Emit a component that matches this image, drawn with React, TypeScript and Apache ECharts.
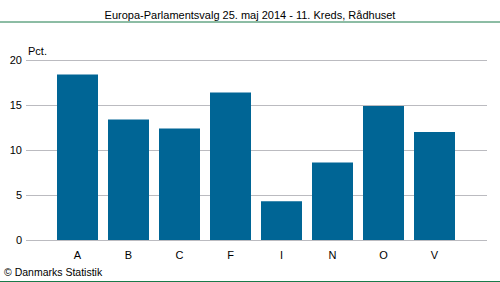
import React, { useEffect, useRef } from "react";
import * as echarts from "echarts";

const categories = ["A", "B", "C", "F", "I", "N", "O", "V"];
const values = [18.4, 13.4, 12.4, 16.4, 4.3, 8.6, 14.9, 12.0];
const yTicks = [0, 5, 10, 15, 20];

export default function App() {
  const ref = useRef<HTMLDivElement>(null);
  useEffect(() => {
    const chart = echarts.init(ref.current!, null, { renderer: "svg" });
    const font = "Liberation Sans, Arial, sans-serif";
    chart.setOption({
      animation: false,
      backgroundColor: "#ffffff",
      title: {
        text: "Europa-Parlamentsvalg 25. maj 2014 - 11. Kreds, Rådhuset",
        left: "center",
        top: 4,
        textStyle: { fontFamily: font, fontSize: 11, fontWeight: "normal", color: "#000" },
      },
      graphic: [
        { type: "line", shape: { x1: 0, y1: 22, x2: 500, y2: 22 }, style: { stroke: "#1a7a4a", lineWidth: 1 } },
        { type: "line", shape: { x1: 0, y1: 281.5, x2: 500, y2: 281.5 }, style: { stroke: "#1a7a4a", lineWidth: 1 } },
        { type: "text", left: 4, top: 266, style: { text: "© Danmarks Statistik", font: "10.5px " + font, fill: "#000" } },
        { type: "text", left: 28, top: 45, style: { text: "Pct.", font: "11px " + font, fill: "#000" } },
      ],
      grid: [
        { left: 26, right: 13, top: 60, bottom: 42, containLabel: false },
        { left: 52, width: 408, top: 60, bottom: 42, containLabel: false },
      ],
      xAxis: [
        { gridIndex: 0, type: "value", show: false, min: 0, max: 1 },
        {
          gridIndex: 1,
          type: "category",
          data: categories,
          axisLine: { show: false },
          axisTick: { show: false },
          axisLabel: { fontFamily: font, fontSize: 11, color: "#000", margin: 9 },
        },
      ],
      yAxis: [
        {
          gridIndex: 0,
          type: "value",
          min: yTicks[0],
          max: yTicks[yTicks.length - 1],
          interval: 5,
          axisLine: { show: false },
          axisTick: { show: false },
          axisLabel: { fontFamily: font, fontSize: 11, color: "#000", margin: 4 },
          splitLine: { lineStyle: { color: "#bbbbc0", width: 1 } },
        },
        { gridIndex: 1, type: "value", min: 0, max: 20, show: false, splitLine: { show: false } },
      ],
      series: [
        {
          type: "bar",
          xAxisIndex: 1,
          yAxisIndex: 1,
          data: values,
          barWidth: 41,
          itemStyle: { color: "#006595" },
        },
      ],
    });
    return () => chart.dispose();
  }, []);
  return <div ref={ref} style={{ width: 500, height: 282, position: "absolute", left: 0, top: 0 }} />;
}
